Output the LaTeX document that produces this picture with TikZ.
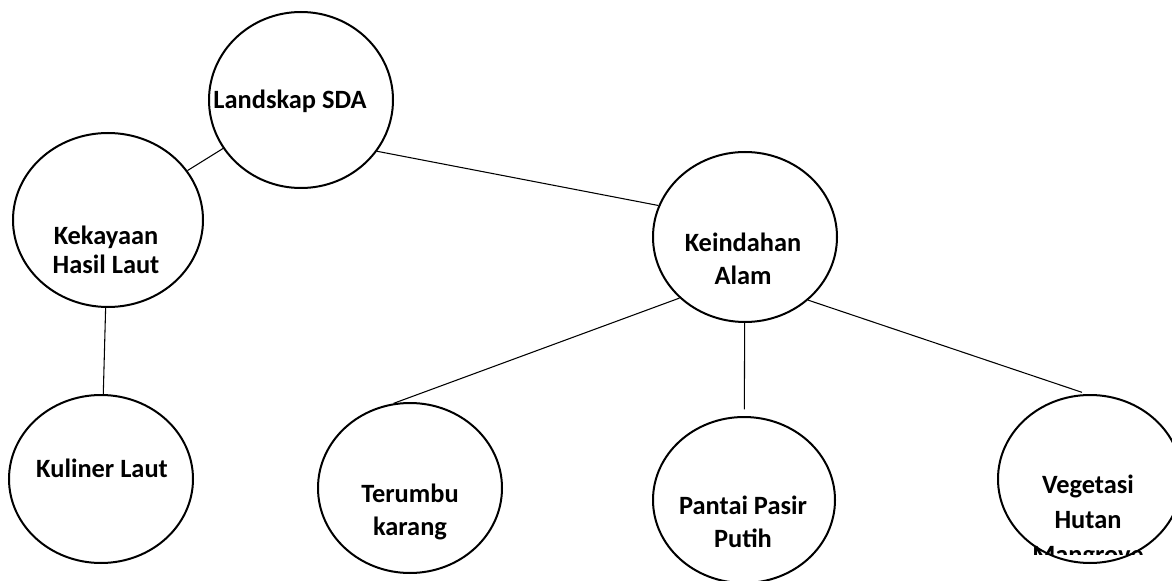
\documentclass[tikz,border=0pt]{standalone}
\usepackage{fontspec}
\setmainfont{Carlito}
\usetikzlibrary{shapes.geometric}
\tikzset{
  cnode/.style={draw=black,ellipse,line width=1.5pt,inner sep=0pt,minimum width=138pt,minimum height=127.5pt},
  tnode/.style={align=center,inner sep=0pt,font=\fontsize{19.8}{24.75}\selectfont\bfseries},
  ln/.style={black,line width=0.8pt},
}
\begin{document}
\begin{tikzpicture}[x=0.75pt,y=-0.75pt]
  \clip (0,0) rectangle (1172,581);
  % circles
  \node[cnode,minimum height=132pt] (lsda) at (301,100) {};
  \node[cnode,minimum width=142.5pt,minimum height=130.5pt] (khl) at (108,220) {};
  \node[cnode] (ka) at (745,237) {};
  \node[cnode,minimum height=126pt] (kl) at (101,479) {};
  \node[cnode] (tk) at (410,488) {};
  \node[cnode,minimum width=136.5pt,minimum height=124.5pt] (pp) at (744,500) {};
  \node[cnode,minimum height=126pt] (vhm) at (1090,479) {};
  % texts
  \node[tnode] (lsdaT) at (290,101) {Landskap SDA};
  \node[tnode,font=\fontsize{19.8}{21.75}\selectfont\bfseries] (khlT) at (106,250) {Kekayaan\\Hasil Laut};
  \node[tnode] (kaT) at (743,259) {Keindahan\\Alam};
  \node[tnode] (klT) at (102,468) {Kuliner Laut};
  \node[tnode] (tkT) at (410,512) {Terumbu\\karang};
  \node[tnode] (ppT) at (743,522) {Pantai Pasir\\Putih};
  \begin{scope}
    \clip (990,380) rectangle (1172,554);
    \node[tnode,font=\fontsize{19.8}{26.25}\selectfont\bfseries] (vhmT) at (1088,521) {Vegetasi\\Hutan\\Mangrove};
  \end{scope}
  % connectors
  \draw[ln] (lsda) -- (khl);
  \draw[ln] (lsda.-34) -- (ka.160);
  \draw[ln] (khl) -- (kl);
  \draw[ln] (ka.-137) -- (tk.101);
  \draw[ln,shorten >=5pt] (ka) -- (pp);
  \draw[ln,shorten >=4pt] (ka.-45) -- (vhm.92);
\end{tikzpicture}
\end{document}
